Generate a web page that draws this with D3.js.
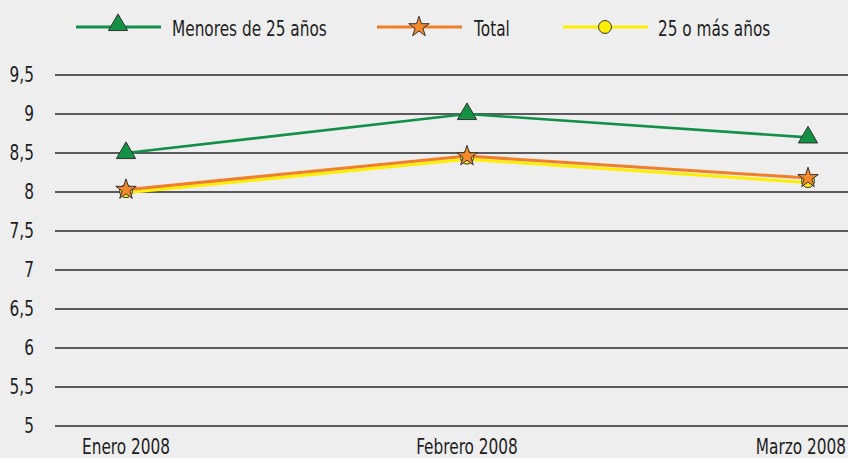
<!DOCTYPE html>
<html>
<head>
<meta charset="utf-8">
<script src="https://cdn.jsdelivr.net/npm/d3@7"></script>
<style>
  body { margin: 0; background: #eeeeee; }
  svg { display: block; font-family: "DejaVu Sans", sans-serif; }
</style>
</head>
<body>
<div id="vis"></div>
<script>
const months = ["Enero 2008", "Febrero 2008", "Marzo 2008"];
const menores = [8.5, 9.0, 8.7];
const total = [8.03, 8.46, 8.18];
const mayores = [8.01, 8.44, 8.14];
const yTicks = [5, 5.5, 6, 6.5, 7, 7.5, 8, 8.5, 9, 9.5];

const W = 848, H = 458;
const SX = 0.73; // squeeze text, the original font is condensed
const svg = d3.select("#vis").append("svg").attr("width", W).attr("height", H);

const x = d3.scalePoint().domain(months).range([126, 808]);
const y = d3.scaleLinear().domain([5, 9.5]).range([426, 75]);

// condensed text helper
function label(g, tx, ty, str, anchor) {
  return g.append("text")
    .attr("transform", `translate(${tx},${ty}) scale(${SX},1)`)
    .attr("text-anchor", anchor || "start")
    .attr("font-size", 21)
    .attr("fill", "#1e1e1e")
    .text(str);
}

// grid lines
svg.append("g")
  .selectAll("line")
  .data(yTicks)
  .enter()
  .append("line")
  .attr("x1", 55).attr("x2", W)
  .attr("y1", d => y(d)).attr("y2", d => y(d))
  .attr("stroke", "#2a2a2a").attr("stroke-width", 1.4);

// y labels
const fmt = d => String(d).replace(".", ",");
const yl = svg.append("g");
yTicks.forEach(d => label(yl, 34, y(d) + 7, fmt(d), "end"));

// x labels
const xl = svg.append("g");
months.forEach(d => {
  const t = label(xl, x(d), 454, d, "middle");
  const half = t.node().getComputedTextLength() * SX / 2;
  const cx = Math.min(x(d), W - 2 - half);
  t.attr("transform", `translate(${cx},454) scale(${SX},1)`);
});

const series = [
  { name: "25 o más años", values: mayores, color: "#ffee00", fill: "#ffee00", shape: "circle", dy: 1.5 },
  { name: "Total", values: total, color: "#f07f2a", fill: "#f5892c", shape: "star", dy: 0 },
  { name: "Menores de 25 años", values: menores, color: "#12904a", fill: "#129242", shape: "triangle", dy: 0 }
];

const line = d3.line().x((d, i) => x(months[i])).y(d => y(d));

const symbolOf = s => s === "circle" ? d3.symbolCircle : s === "star" ? d3.symbolStar : d3.symbolTriangle;
const sizeOf = s => s === "circle" ? 130 : s === "star" ? 130 : 160;

series.forEach(s => {
  svg.append("path")
    .datum(s.values)
    .attr("d", line)
    .attr("transform", `translate(0,${s.dy})`)
    .attr("fill", "none")
    .attr("stroke", s.color)
    .attr("stroke-width", s.shape === "triangle" ? 2.6 : 3);
});

series.forEach(s => {
  svg.append("g")
    .selectAll("path")
    .data(s.values)
    .enter()
    .append("path")
    .attr("d", d3.symbol().type(symbolOf(s.shape)).size(sizeOf(s.shape)))
    .attr("transform", (d, i) => `translate(${x(months[i])},${y(d)})`)
    .attr("fill", s.fill)
    .attr("stroke", "#333")
    .attr("stroke-width", 1);
});

// legend
const legend = [
  { s: series[2], x0: 76, tx: 172 },
  { s: series[1], x0: 377, tx: 474 },
  { s: series[0], x0: 563, tx: 658 }
];
legend.forEach(l => {
  const g = svg.append("g");
  g.append("line")
    .attr("x1", l.x0).attr("x2", l.x0 + 85)
    .attr("y1", 27).attr("y2", 27)
    .attr("stroke", l.s.color).attr("stroke-width", 3);
  g.append("path")
    .attr("d", d3.symbol().type(symbolOf(l.s.shape)).size(sizeOf(l.s.shape)))
    .attr("transform", `translate(${l.x0 + 42},${l.s.shape === "triangle" ? 25 : 27})`)
    .attr("fill", l.s.fill)
    .attr("stroke", "#333")
    .attr("stroke-width", 1);
  label(g, l.tx, 36, l.s.name);
});
</script>
</body>
</html>
